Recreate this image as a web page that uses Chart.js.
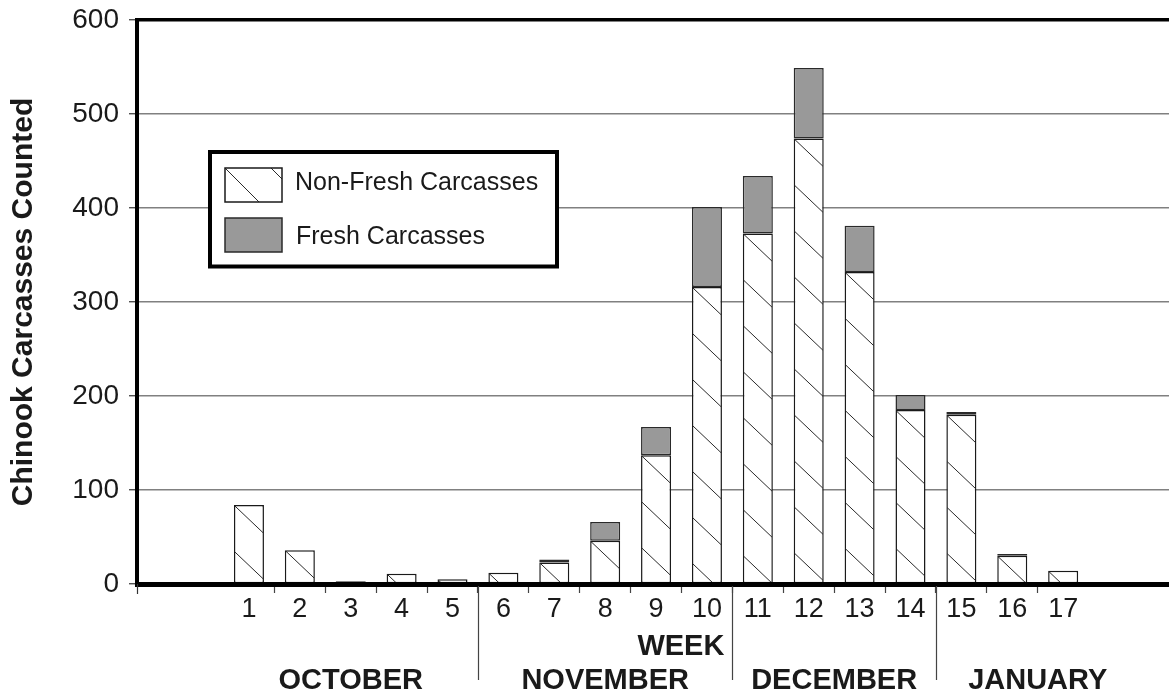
<!DOCTYPE html>
<html>
<head>
<meta charset="utf-8">
<style>
html,body{margin:0;padding:0;background:#fff;}
#wrap{width:1169px;height:694px;}
canvas{display:block;}
</style>
<script src="https://cdn.jsdelivr.net/npm/chart.js@4.4.1/dist/chart.umd.min.js"></script>
</head>
<body>
<div id="wrap"><canvas id="c" width="1169" height="694"></canvas></div>
<script>
// ---- data ----
const weeks = [1, 2, 3, 4, 5, 6, 7, 8, 9, 10, 11, 12, 13, 14, 15, 16, 17];
const weekLabels = weeks.map(String);
const nonFresh = [84, 36, 2, 11, 5, 12, 23, 46, 137, 316, 373, 474, 332, 185, 180, 30, 14];
const fresh    = [0, 0, 1, 0, 0, 0, 3, 20, 30, 85, 61, 75, 49, 16, 3, 2, 0];
const yTickValues = [0, 100, 200, 300, 400, 500, 600];
const seriesNames = ['Non-Fresh Carcasses', 'Fresh Carcasses'];
const months = ['OCTOBER', 'NOVEMBER', 'DECEMBER', 'JANUARY'];
const monthCenters = [3, 8, 12.5, 16.5];
const monthBreaks = [5.5, 10.5, 14.5];
const xAxisName = 'WEEK';
const yAxisName = 'Chinook Carcasses Counted';

const FONT = "'Liberation Sans', Arial, Helvetica, sans-serif";
Chart.defaults.font.family = FONT;
Chart.defaults.color = '#1a1a1a';

function hatch(ctx, left, top, right, bottom, spacing, slope) {
  const w = right - left;
  if (w <= 0 || bottom - top <= 0) return;
  ctx.save();
  ctx.beginPath();
  ctx.rect(left, top, w, bottom - top);
  ctx.clip();
  ctx.strokeStyle = '#2a2a2a';
  ctx.lineWidth = 1;
  ctx.beginPath();
  const startK = -Math.ceil((w * slope) / spacing);
  for (let k = startK; top + k * spacing < bottom; k++) {
    const yy = top + k * spacing;
    ctx.moveTo(left, yy);
    ctx.lineTo(right, yy + w * slope);
  }
  ctx.stroke();
  ctx.restore();
}

const decor = {
  id: 'decor',
  afterDatasetsDraw(chart) {
    const ctx = chart.ctx;
    const meta = chart.getDatasetMeta(0);
    meta.data.forEach(bar => {
      const p = bar.getProps(['x', 'y', 'base', 'width'], true);
      const top = Math.min(p.y, p.base), bottom = Math.max(p.y, p.base);
      if (bottom - top < 2) return;
      hatch(ctx, p.x - p.width / 2 + 0.75, top + 0.75, p.x + p.width / 2 - 0.75, bottom, 46, 0.95);
    });
  },
  afterDraw(chart) {
    const ctx = chart.ctx;
    const xs = chart.scales.x;
    const area = chart.chartArea;
    ctx.save();
    // tick at axis start
    ctx.strokeStyle = '#333';
    ctx.lineWidth = 1.2;
    ctx.beginPath();
    ctx.moveTo(area.left + 0.5, area.bottom);
    ctx.lineTo(area.left + 0.5, area.bottom + 10);
    ctx.stroke();
    // month dividers
    ctx.strokeStyle = '#444';
    ctx.lineWidth = 1.2;
    monthBreaks.forEach(b => {
      const x = Math.round(xs.getPixelForValue(b)) + 0.5;
      ctx.beginPath();
      ctx.moveTo(x, area.bottom + 2);
      ctx.lineTo(x, 680);
      ctx.stroke();
    });
    // WEEK
    ctx.fillStyle = '#1a1a1a';
    ctx.font = 'bold 29px ' + FONT;
    ctx.textAlign = 'right';
    ctx.textBaseline = 'middle';
    ctx.fillText(xAxisName, xs.getPixelForValue(10.5) - 8, 647);
    // months
    ctx.textAlign = 'center';
    months.forEach((m, i) => {
      ctx.fillText(m, xs.getPixelForValue(monthCenters[i]), 681);
    });
    // legend
    const L = 210, T = 152, R = 557, B = 266.5;
    ctx.fillStyle = '#fff';
    ctx.fillRect(L, T, R - L, B - T);
    ctx.strokeStyle = '#000';
    ctx.lineWidth = 4;
    ctx.strokeRect(L, T, R - L, B - T);
    // swatch 1
    const sx = 225, sw = 57, sh = 34;
    const s1y = 168, s2y = 218;
    ctx.fillStyle = '#fff';
    ctx.fillRect(sx, s1y, sw, sh);
    hatch(ctx, sx, s1y, sx + sw, s1y + sh, 46, 1.0);
    ctx.strokeStyle = '#1a1a1a';
    ctx.lineWidth = 1.5;
    ctx.strokeRect(sx, s1y, sw, sh);
    // swatch 2
    ctx.fillStyle = '#999999';
    ctx.fillRect(sx, s2y, sw, sh);
    ctx.strokeStyle = '#2a2a2a';
    ctx.strokeRect(sx, s2y, sw, sh);
    // legend text
    ctx.fillStyle = '#1a1a1a';
    ctx.font = '25px ' + FONT;
    ctx.textAlign = 'left';
    ctx.textBaseline = 'middle';
    ctx.fillText(seriesNames[0], 295, 183);
    ctx.fillText(seriesNames[1], 296, 237);
    ctx.restore();
  }
};

const cfg = {
  type: 'bar',
  data: {
    datasets: [
      {
        label: seriesNames[0],
        data: weeks.map((w, i) => ({x: w, y: nonFresh[i]})),
        backgroundColor: '#ffffff',
        borderColor: '#1a1a1a',
        borderWidth: 1.5,
        borderSkipped: false,
        categoryPercentage: 1,
        barPercentage: 0.59
      },
      {
        label: seriesNames[1],
        data: weeks.map((w, i) => ({x: w, y: fresh[i]})),
        backgroundColor: '#999999',
        borderColor: '#2a2a2a',
        borderWidth: 1.5,
        borderSkipped: false,
        categoryPercentage: 1,
        barPercentage: 0.59
      }
    ]
  },
  options: {
    responsive: false,
    animation: false,
    devicePixelRatio: 1,
    layout: {padding: {top: 20, right: 0, bottom: 0, left: 0}},
    plugins: {legend: {display: false}, tooltip: {enabled: false}},
    scales: {
      x: {
        type: 'linear',
        stacked: true,
        offset: false,
        min: -1.2,
        max: 19.08,
        afterBuildTicks(scale) {
          const t = [];
          for (let v = Math.ceil(scale.min); v <= Math.floor(scale.max); v++) t.push({value: v});
          scale.ticks = t;
        },
        afterFit(scale) { scale.height = 110; },
        grid: {
          offset: true,
          drawOnChartArea: false,
          drawTicks: true,
          tickLength: 9,
          tickWidth: 1.2,
          tickColor: c => (c.tick && c.tick.value >= 2 && c.tick.value <= 17) ? '#444' : 'rgba(0,0,0,0)'
        },
        border: {display: true, color: '#000', width: 5, z: 1},
        ticks: {
          autoSkip: false,
          maxRotation: 0,
          minRotation: 0,
          padding: 0,
          font: {size: 27},
          color: '#1a1a1a',
          callback: v => {
            const i = weeks.indexOf(v);
            return i >= 0 ? weekLabels[i] : '';
          }
        }
      },
      y: {
        stacked: true,
        min: 0,
        max: 600,
        afterBuildTicks(scale) { scale.ticks = yTickValues.map(v => ({value: v})); },
        afterFit(scale) { scale.width = 137; },
        grid: {
          color: c => (c.tick && c.tick.value === 600) ? '#000' : '#808080',
          lineWidth: c => (c.tick && c.tick.value === 600) ? 3.5 : 1.5,
          tickColor: '#333',
          tickWidth: 1.2,
          tickLength: 8
        },
        border: {display: true, color: '#000', width: 4, z: 1},
        ticks: {
          padding: 10,
          font: {size: 28, lineHeight: 0.6},
          color: '#1a1a1a'
        },
        title: {
          display: true,
          text: yAxisName,
          font: {size: 30, weight: 'bold'},
          color: '#1a1a1a',
          padding: {top: 6, bottom: 0}
        }
      }
    }
  },
  plugins: [decor]
};

new Chart(document.getElementById('c'), cfg);
</script>
</body>
</html>
